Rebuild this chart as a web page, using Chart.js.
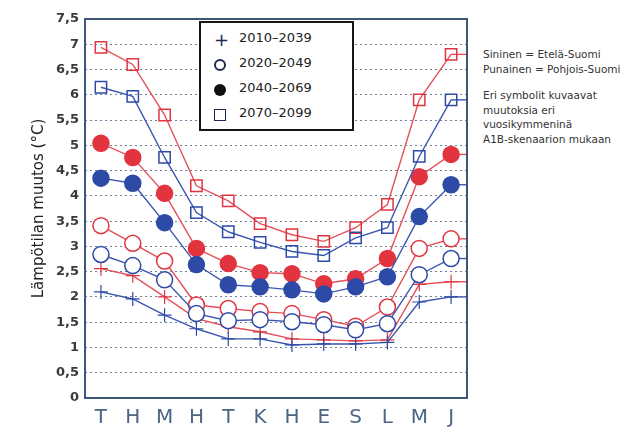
<!DOCTYPE html>
<html>
<head>
<meta charset="utf-8">
<script src="https://cdn.jsdelivr.net/npm/chart.js@4/dist/chart.umd.min.js"></script>
<style>
    body { margin: 0; background: #fff; width: 627px; height: 432px; overflow: hidden; position: relative; font-family: "DejaVu Sans", sans-serif; }
    #wrap { position: absolute; left: 0; top: 0; width: 480px; height: 432px; }
    #legend { position: absolute; left: 199px; top: 21px; width: 151px; height: 106px; border: 2px solid #151515; background: #fff; }
    .item { position: absolute; left: 38px; font-size: 13px; color: #222; }
    .sym { position: absolute; left: 13px; width: 12px; height: 12px; box-sizing: border-box; }
    #notes { position: absolute; left: 483px; top: 47px; font-size: 10.5px; color: #333; line-height: 14.5px; }
</style>
</head>
<body>
<div id="wrap"><canvas id="chart" width="480" height="432"></canvas></div>
<div id="legend">
    <div class="sym" style="top:11px;font-size:18px;line-height:12px;color:#1d2a55;text-align:center;">+</div>
    <div class="item" style="top:7px">2010–2039</div>
    <div class="sym" style="top:36px;border:2px solid #1d2a55;border-radius:50%"></div>
    <div class="item" style="top:32px">2020–2049</div>
    <div class="sym" style="top:61px;background:#111;border-radius:50%"></div>
    <div class="item" style="top:57px">2040–2069</div>
    <div class="sym" style="top:86px;border:1.5px solid #1d2a55"></div>
    <div class="item" style="top:82px">2070–2099</div>
</div>
<div id="notes">
    Sininen = Etelä-Suomi<br>
    Punainen = Pohjois-Suomi<br>
    <div style="height:12px"></div>
    Eri symbolit kuvaavat<br>
    muutoksia eri<br>
    vuosikymmeninä<br>
    A1B-skenaarion mukaan
</div>
<script>
// Months (Finnish initials)
const months = ['T', 'H', 'M', 'H', 'T', 'K', 'H', 'E', 'S', 'L', 'M', 'J'];

// Etelä-Suomi (blue)
const south2010 = [2.1, 1.96, 1.64, 1.37, 1.17, 1.17, 1.05, 1.07, 1.07, 1.1, 1.9, 2.0];
const south2020 = [2.84, 2.62, 2.34, 1.67, 1.53, 1.55, 1.51, 1.45, 1.35, 1.47, 2.44, 2.76];
const south2040 = [4.35, 4.25, 3.47, 2.64, 2.24, 2.2, 2.14, 2.06, 2.2, 2.4, 3.59, 4.22];
const south2070 = [6.15, 5.97, 4.76, 3.67, 3.29, 3.08, 2.9, 2.82, 3.17, 3.37, 4.78, 5.9];

// Pohjois-Suomi (red)
const north2010 = [2.56, 2.42, 2.0, 1.57, 1.41, 1.31, 1.17, 1.15, 1.13, 1.15, 2.25, 2.3];
const north2020 = [3.41, 3.06, 2.71, 1.84, 1.77, 1.71, 1.67, 1.55, 1.42, 1.8, 2.96, 3.15];
const north2040 = [5.04, 4.76, 4.05, 2.96, 2.66, 2.48, 2.46, 2.26, 2.36, 2.76, 4.38, 4.82];
const north2070 = [6.94, 6.6, 5.6, 4.2, 3.9, 3.45, 3.23, 3.1, 3.37, 3.83, 5.9, 6.8];

// Y tick labels
const yTicks = ['0', '0,5', '1', '1,5', '2', '2,5', '3', '3,5', '4', '4,5', '5', '5,5', '6', '6,5', '7', '7,5'];

const RED = '#e2343f';
const RED_LINE = '#e4505a';
const BLUE = '#2d4aa6';
const BLUE_LINE = '#3a56b0';

function series(data, kind, color, lineColor) {
    const ds = {
        data: data,
        borderColor: lineColor,
        borderWidth: 1.4,
        pointBorderColor: color,
        pointBorderWidth: 1.5,
        tension: 0
    };
    if (kind === 'cross') {
        ds.pointStyle = 'cross';
        ds.pointRadius = 7;
        ds.pointBorderWidth = 1.2;
    } else if (kind === 'open') {
        ds.pointStyle = 'circle';
        ds.pointRadius = 8;
        ds.pointBackgroundColor = '#fff';
    } else if (kind === 'filled') {
        ds.pointStyle = 'circle';
        ds.pointRadius = 8;
        ds.pointBackgroundColor = color;
    } else {
        ds.pointStyle = 'rect';
        ds.pointRadius = 8;
        ds.pointBackgroundColor = 'rgba(255,255,255,0)';
    }
    return ds;
}

// Frame round the plot area and line stubs to the right edge
const framePlugin = {
    id: 'frame',
    beforeDatasetsDraw(chart) {
        const ctx = chart.ctx;
        const a = chart.chartArea;
        ctx.save();
        chart.data.datasets.forEach((ds, i) => {
            const pts = chart.getDatasetMeta(i).data;
            const last = pts[pts.length - 1];
            ctx.strokeStyle = ds.borderColor;
            ctx.lineWidth = ds.borderWidth;
            ctx.beginPath();
            ctx.moveTo(last.x, last.y);
            ctx.lineTo(a.right, last.y);
            ctx.stroke();
        });
        ctx.restore();
    },
    afterDraw(chart) {
        const ctx = chart.ctx;
        const a = chart.chartArea;
        ctx.save();
        ctx.strokeStyle = '#3d5678';
        ctx.lineWidth = 2;
        ctx.strokeRect(a.left, a.top, a.right - a.left, a.bottom - a.top);
        ctx.restore();
    }
};

// blue series listed first so they sit on top of the red ones
new Chart(document.getElementById('chart'), {
    type: 'line',
    data: {
        labels: months,
        datasets: [
            series(south2010, 'cross', BLUE, BLUE_LINE),
            series(south2020, 'open', BLUE, BLUE_LINE),
            series(south2040, 'filled', BLUE, BLUE_LINE),
            series(south2070, 'square', BLUE, BLUE_LINE),
            series(north2010, 'cross', RED, RED_LINE),
            series(north2020, 'open', RED, RED_LINE),
            series(north2040, 'filled', RED, RED_LINE),
            series(north2070, 'square', RED, RED_LINE)
        ]
    },
    options: {
        responsive: false,
        animation: false,
        layout: { padding: { left: 30, right: 13, top: 19, bottom: 2 } },
        plugins: { legend: { display: false }, tooltip: { enabled: false } },
        scales: {
            x: {
                offset: true,
                grid: { display: false },
                border: { display: false },
                ticks: { color: '#4b6585', font: { family: 'DejaVu Sans', size: 20 }, padding: 0 }
            },
            y: {
                min: 0,
                max: 7.5,
                border: { display: false, dash: [2, 3] },
                grid: { color: '#6f8299', lineWidth: 1, drawTicks: false },
                ticks: {
                    stepSize: 0.5,
                    padding: 6,
                    color: '#3a3a3a',
                    font: { family: 'DejaVu Sans', size: 13, weight: 'bold' },
                    callback: (v, i) => yTicks[i]
                },
                title: {
                    display: true,
                    text: 'Lämpötilan muutos (°C)',
                    color: '#222',
                    font: { family: 'DejaVu Sans', size: 15 },
                    padding: { top: 0, bottom: 2 }
                }
            }
        }
    },
    plugins: [framePlugin]
});
</script>
</body>
</html>
